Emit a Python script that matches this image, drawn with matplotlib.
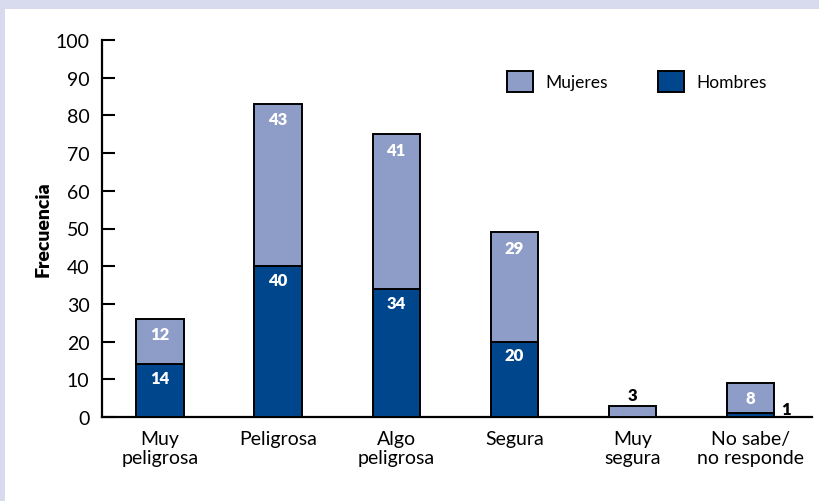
import numpy as np
import matplotlib.pyplot as plt
from matplotlib.patches import Rectangle

plt.rcParams['font.family'] = ['Lato', 'DejaVu Sans']

# Data
categorias = ['Muy\npeligrosa', 'Peligrosa', 'Algo\npeligrosa', 'Segura',
              'Muy\nsegura', 'No sabe/\nno responde']
hombres = [14, 40, 34, 20, 0, 1]
mujeres = [12, 43, 41, 29, 3, 8]

col_muj = '#8e9dc8'
col_hom = '#00468c'

fig = plt.figure(figsize=(8.19, 5.02), dpi=100)
fig.patch.set_facecolor('white')
# lavender frame on top and left
fig.patches.append(Rectangle((0, 1 - 10 / 502), 1, 10 / 502, transform=fig.transFigure,
                             facecolor='#d8dbee', edgecolor='none', zorder=-5))
fig.patches.append(Rectangle((0, 0), 5 / 819, 1, transform=fig.transFigure,
                             facecolor='#d8dbee', edgecolor='none', zorder=-5))

ax = fig.add_axes([102 / 819, 1 - 418 / 502, (812 - 102) / 819, (418 - 41) / 502])

x = np.arange(len(categorias))
w = 0.40
ax.bar(x, hombres, w, color=col_hom, edgecolor='black', linewidth=1.4,
       label='Hombres', zorder=3)
ax.bar(x, mujeres, w, bottom=hombres, color=col_muj, edgecolor='black',
       linewidth=1.4, label='Mujeres', zorder=3)

# value labels
lab = dict(fontweight='heavy', fontsize=12)
for i in range(len(x)):
    top = hombres[i] + mujeres[i]
    if i == 4:
        ax.annotate(str(mujeres[i]), (x[i], top), xytext=(0, 8), textcoords='offset points',
                    ha='center', va='center', color='black', **lab)
    else:
        ax.annotate(str(mujeres[i]), (x[i], top), xytext=(0, -11), textcoords='offset points',
                    ha='center', va='center', color='white', **lab)
    if hombres[i] >= 5:
        ax.annotate(str(hombres[i]), (x[i], hombres[i]), xytext=(0, -10),
                    textcoords='offset points', ha='center', va='center',
                    color='white', **lab)
    elif hombres[i] > 0:
        ax.annotate(str(hombres[i]), (x[i] + w / 2, 0), xytext=(5, 0),
                    textcoords='offset points', ha='left', va='bottom',
                    color='black', **lab)

ax.set_xlim(-0.49, 5.52)
ax.set_ylim(0, 100)
ax.set_yticks(np.arange(0, 101, 10))
ax.set_xticks(x)
ax.set_xticklabels(categorias, fontsize=14, linespacing=1.2)
ax.tick_params(axis='x', length=0, pad=9)
ax.tick_params(axis='y', direction='in', length=9, width=1.5, pad=9, labelsize=14)
for s in ['top', 'right']:
    ax.spines[s].set_visible(False)
for s in ['left', 'bottom']:
    ax.spines[s].set_linewidth(1.6)
ax.set_ylabel('Frecuencia', fontsize=14, fontweight='heavy', labelpad=3)

handles, labels = ax.get_legend_handles_labels()
ax.legend(handles[::-1], labels[::-1], ncol=2, frameon=False, fontsize=12.5,
          loc='upper left', bbox_to_anchor=(507 / 819, 1 - 72 / 502),
          bbox_transform=fig.transFigure, borderpad=0, borderaxespad=0,
          handlelength=1.5, handleheight=1.5, handletextpad=0.7,
          columnspacing=2.9)

fig.savefig('out.png', dpi=100)
